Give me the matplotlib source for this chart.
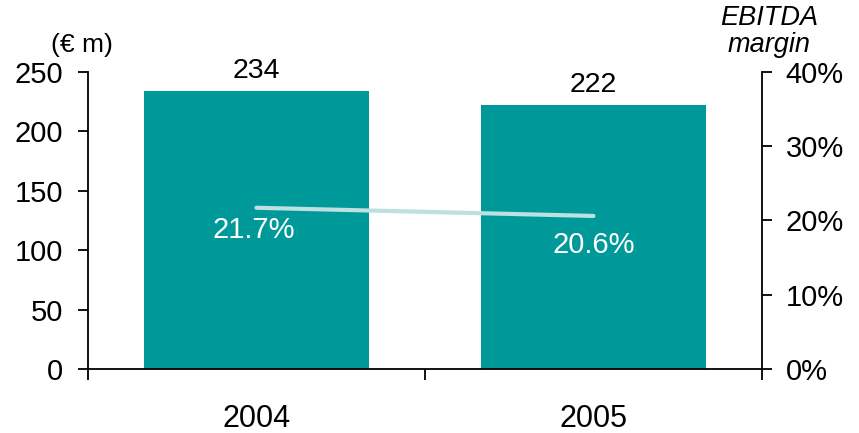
import matplotlib.pyplot as plt

plt.rcParams['font.family'] = ['Liberation Sans', 'DejaVu Sans']

years = ['2004', '2005']
ebitda = [234, 222]
margin = [21.7, 20.6]
margin_labels = ['21.7%', '20.6%']

bar_color = '#009999'
line_color = '#bde0e3'

fig = plt.figure(figsize=(8.59, 4.33), dpi=100)
ax = fig.add_axes([0.1024, 0.148, 0.7846, 0.686])
ax2 = ax.twinx()

x = list(range(len(years)))
ax.bar(x, ebitda, width=0.67, color=bar_color, zorder=2)
for xi, v in zip(x, ebitda):
    ax.annotate(str(v), (xi, v), xytext=(0, 5), textcoords='offset points',
                ha='center', va='bottom', fontsize=20.5)

ax.set_xlim(-0.5, 1.5)
ax.set_ylim(0, 250)
ax.set_yticks([0, 50, 100, 150, 200, 250])
ax.set_xticks([-0.5, 0.5, 1.5])
ax.set_xticklabels([])
ax.set_xticks(x, minor=True)
ax.set_xticklabels(years, minor=True)
ax.tick_params(axis='x', which='major', length=8, width=1.3, direction='out')
ax.tick_params(axis='x', which='minor', length=0, pad=25, labelsize=22)
ax.tick_params(axis='y', length=7, width=1.3, pad=11, labelsize=21)

ax2.plot(x, margin, color=line_color, lw=3, solid_capstyle='round', zorder=3)
for xi, v, lab, dy in zip(x, margin, margin_labels, [-16, -21]):
    ax2.annotate(lab, (xi, v), xytext=(-2 if xi == 0 else 0, dy),
                 textcoords='offset points', ha='center', va='center',
                 color='white', fontsize=21)
ax2.set_ylim(0, 40)
ax2.set_yticks([0, 10, 20, 30, 40])
ax2.set_yticklabels(['0%', '10%', '20%', '30%', '40%'])
ax2.tick_params(axis='y', length=7, width=1.3, pad=10, labelsize=21)

for a in (ax, ax2):
    a.spines['top'].set_visible(False)
    for s in ('left', 'right', 'bottom'):
        a.spines[s].set_linewidth(1.3)
ax.spines['right'].set_visible(False)
ax2.spines['left'].set_visible(False)
ax2.spines['bottom'].set_visible(False)

fig.text(82 / 859, 1 - 45 / 433, '(€ m)', ha='center', va='center', fontsize=19)
fig.text(769 / 859, 1 - 18 / 433, 'EBITDA', ha='center', va='center',
         fontsize=19.5, style='italic')
fig.text(769 / 859, 1 - 45 / 433, 'margin', ha='center', va='center',
         fontsize=19.5, style='italic')

fig.savefig('out.png', dpi=100)
